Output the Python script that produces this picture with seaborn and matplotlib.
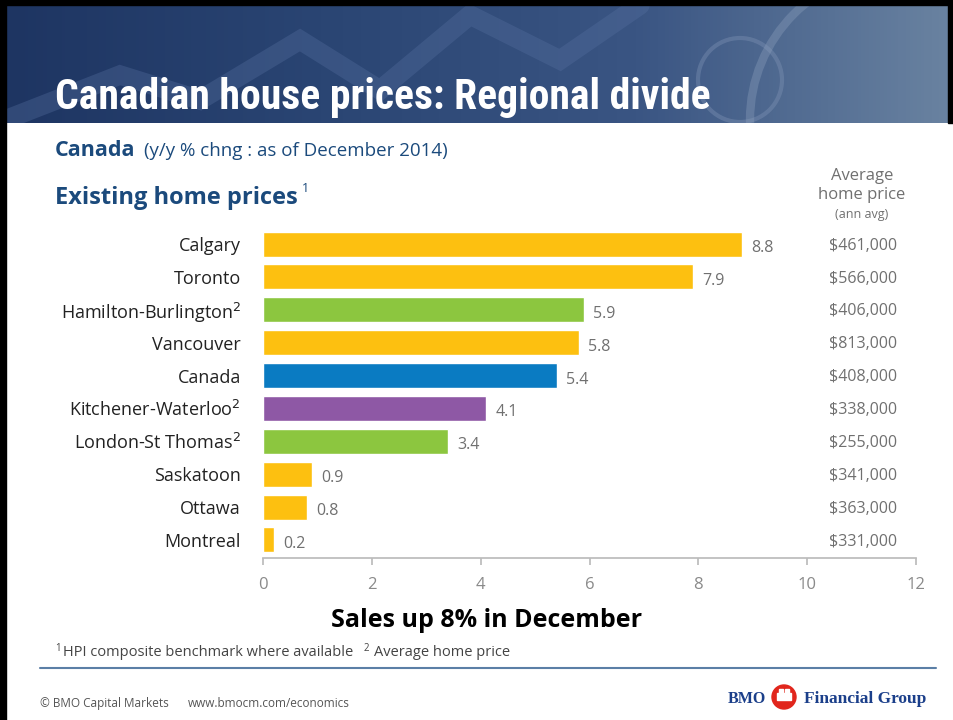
import numpy as np
import pandas as pd
import matplotlib
import matplotlib.pyplot as plt
import seaborn as sns
from matplotlib.patches import Rectangle, Circle

# Data
cities = ['Calgary', 'Toronto', 'Hamilton-Burlington$^{2}$', 'Vancouver', 'Canada',
          'Kitchener-Waterloo$^{2}$', 'London-St Thomas$^{2}$', 'Saskatoon', 'Ottawa', 'Montreal']
pct_change = [8.8, 7.9, 5.9, 5.8, 5.4, 4.1, 3.4, 0.9, 0.8, 0.2]
bar_colors = ['#FDC010', '#FDC010', '#8CC63F', '#FDC010', '#0A7BC2',
              '#8E58A5', '#8CC63F', '#FDC010', '#FDC010', '#FDC010']
avg_price = ['$461,000', '$566,000', '$406,000', '$813,000', '$408,000',
             '$338,000', '$255,000', '$341,000', '$363,000', '$331,000']
x_ticks = [0, 2, 4, 6, 8, 10, 12]

df = pd.DataFrame({'city': cities, 'pct': pct_change})

sns.set_theme(style='white')
plt.rcParams['font.family'] = ['Open Sans', 'DejaVu Sans']
plt.rcParams['mathtext.fontset'] = 'dejavusans'

NAVY = '#1B4A7C'
GREY = '#707070'
NARROW = ['DejaVu Sans Condensed', 'Liberation Sans Narrow', 'Roboto Condensed', 'DejaVu Sans']

fig = plt.figure(figsize=(9.54, 7.2), dpi=100)

# background / decoration axes in pixel coords
bg = fig.add_axes([0, 0, 1, 1], zorder=0)
bg.set_xlim(0, 954)
bg.set_ylim(720, 0)
bg.axis('off')

# header banner gradient
grad = np.linspace(0, 1, 256).reshape(1, -1)
cmap = matplotlib.colors.LinearSegmentedColormap.from_list(
    'hdr', ['#1E3562', '#2A4573', '#3A5583', '#6A83A1'])
bg.imshow(grad, extent=(6, 954, 123, 5), aspect='auto', cmap=cmap, zorder=1)
banner = Rectangle((6, 5), 948, 118, transform=bg.transData)
# faint chart motif in banner
zig, = bg.plot([10, 120, 200, 300, 380, 470, 560, 640], [118, 75, 100, 40, 90, 15, 60, 5],
               color='#5670A0', lw=14, alpha=0.35, zorder=2, solid_joinstyle='miter')
zig.set_clip_path(banner)
for c in [Circle((740, 80), 42, fill=False, ec='#7F93B5', lw=3, alpha=0.4, zorder=2),
          Circle((900, 120), 150, fill=False, ec='#90A3BF', lw=6, alpha=0.35, zorder=2)]:
    bg.add_patch(c)
    c.set_clip_path(banner)
# black frame
bg.add_patch(Rectangle((0, 0), 954, 5, color='black', zorder=3))
bg.add_patch(Rectangle((0, 0), 6, 720, color='black', zorder=3))
bg.add_patch(Rectangle((948, 0), 6, 123, color='black', zorder=3))

bg.text(55, 109, 'Canadian house prices: Regional divide', color='white', fontsize=30,
        fontweight='bold', family=NARROW, va='baseline', zorder=4)

bg.text(55, 156, 'Canada', color=NAVY, fontsize=15.5, fontweight='bold', va='baseline')
bg.text(144, 156, '(y/y % chng : as of December 2014)', color=NAVY, fontsize=13.5, va='baseline')
bg.text(55, 204, 'Existing home prices', color=NAVY, fontsize=17, fontweight='bold', va='baseline')
bg.text(302, 192, '1', color=NAVY, fontsize=9, va='baseline')

bg.text(862, 180, 'Average', color=GREY, fontsize=12, ha='center', va='baseline')
bg.text(862, 199, 'home price', color=GREY, fontsize=12, ha='center', va='baseline')
bg.text(862, 218, '(ann avg)', color=GREY, fontsize=9, ha='center', va='baseline')

bg.text(487, 627, 'Sales up 8% in December', color='black', fontsize=18, fontweight='bold',
        ha='center', va='baseline')

bg.text(55, 651, '1', color='#444444', fontsize=7, va='baseline')
bg.text(63, 656, 'HPI composite benchmark where available', color='#444444', fontsize=10.5, va='baseline')
bg.text(364, 651, '2', color='#444444', fontsize=7, va='baseline')
bg.text(374, 656, 'Average home price', color='#444444', fontsize=10.5, va='baseline')
bg.plot([40, 936], [668, 668], color='#5B7FA6', lw=1.5)

bg.text(40, 707, '© BMO Capital Markets', color='#555555', fontsize=8.5, va='baseline')
bg.text(188, 707, 'www.bmocm.com/economics', color='#555555', fontsize=8.5, va='baseline')
bg.text(766, 699, 'BMO', color='#1B3F8A', fontsize=11.5, fontweight='bold',
        family=['Liberation Serif', 'DejaVu Serif'], ha='right', va='center')
bg.add_patch(Circle((784, 697), 12, color='#E1261C', zorder=3))
bg.add_patch(Rectangle((777, 693), 14, 7, color='white', zorder=4))
bg.add_patch(Rectangle((779, 689), 4, 5, color='white', zorder=4))
bg.add_patch(Rectangle((785, 689), 4, 5, color='white', zorder=4))
bg.text(804, 699, 'Financial Group', color='#1B3F8A', fontsize=12.5, fontweight='bold',
        family=['Liberation Serif', 'DejaVu Serif'], ha='left', va='center')

# main chart
ax = fig.add_axes([263 / 954, 1 - 558 / 720, (916 - 263) / 954, (558 - 226) / 720], zorder=2)
ax.patch.set_alpha(0)
sns.barplot(data=df, x='pct', y='city', hue='city', palette=bar_colors, legend=False,
            width=0.76, saturation=1, ax=ax)
ax.set_xlim(0, 12)
ax.set_ylim(9.55, -0.55)
ax.set_xticks(x_ticks)
ax.set_xticklabels([str(t) for t in x_ticks], color='#8A8A8A', fontsize=12)
ax.set_xlabel('')
ax.set_ylabel('')
for s in ['top', 'right', 'left']:
    ax.spines[s].set_visible(False)
ax.spines['bottom'].set_color('#BBBBBB')
ax.tick_params(axis='x', bottom=True, length=5, color='#BBBBBB', pad=9)
ax.tick_params(axis='y', left=False, pad=10)
for lbl in ax.get_yticklabels():
    lbl.set_fontsize(13)
    lbl.set_color('#222222')

for i, v in enumerate(pct_change):
    ax.text(v + 0.17, i + 0.12, f'{v:.1f}', color=GREY, fontsize=11.5, va='center')
    ax.text(11.02, i + 0.05, avg_price[i], color=GREY, fontsize=11.5, va='center', ha='center')

fig.savefig('out.png', dpi=100)
